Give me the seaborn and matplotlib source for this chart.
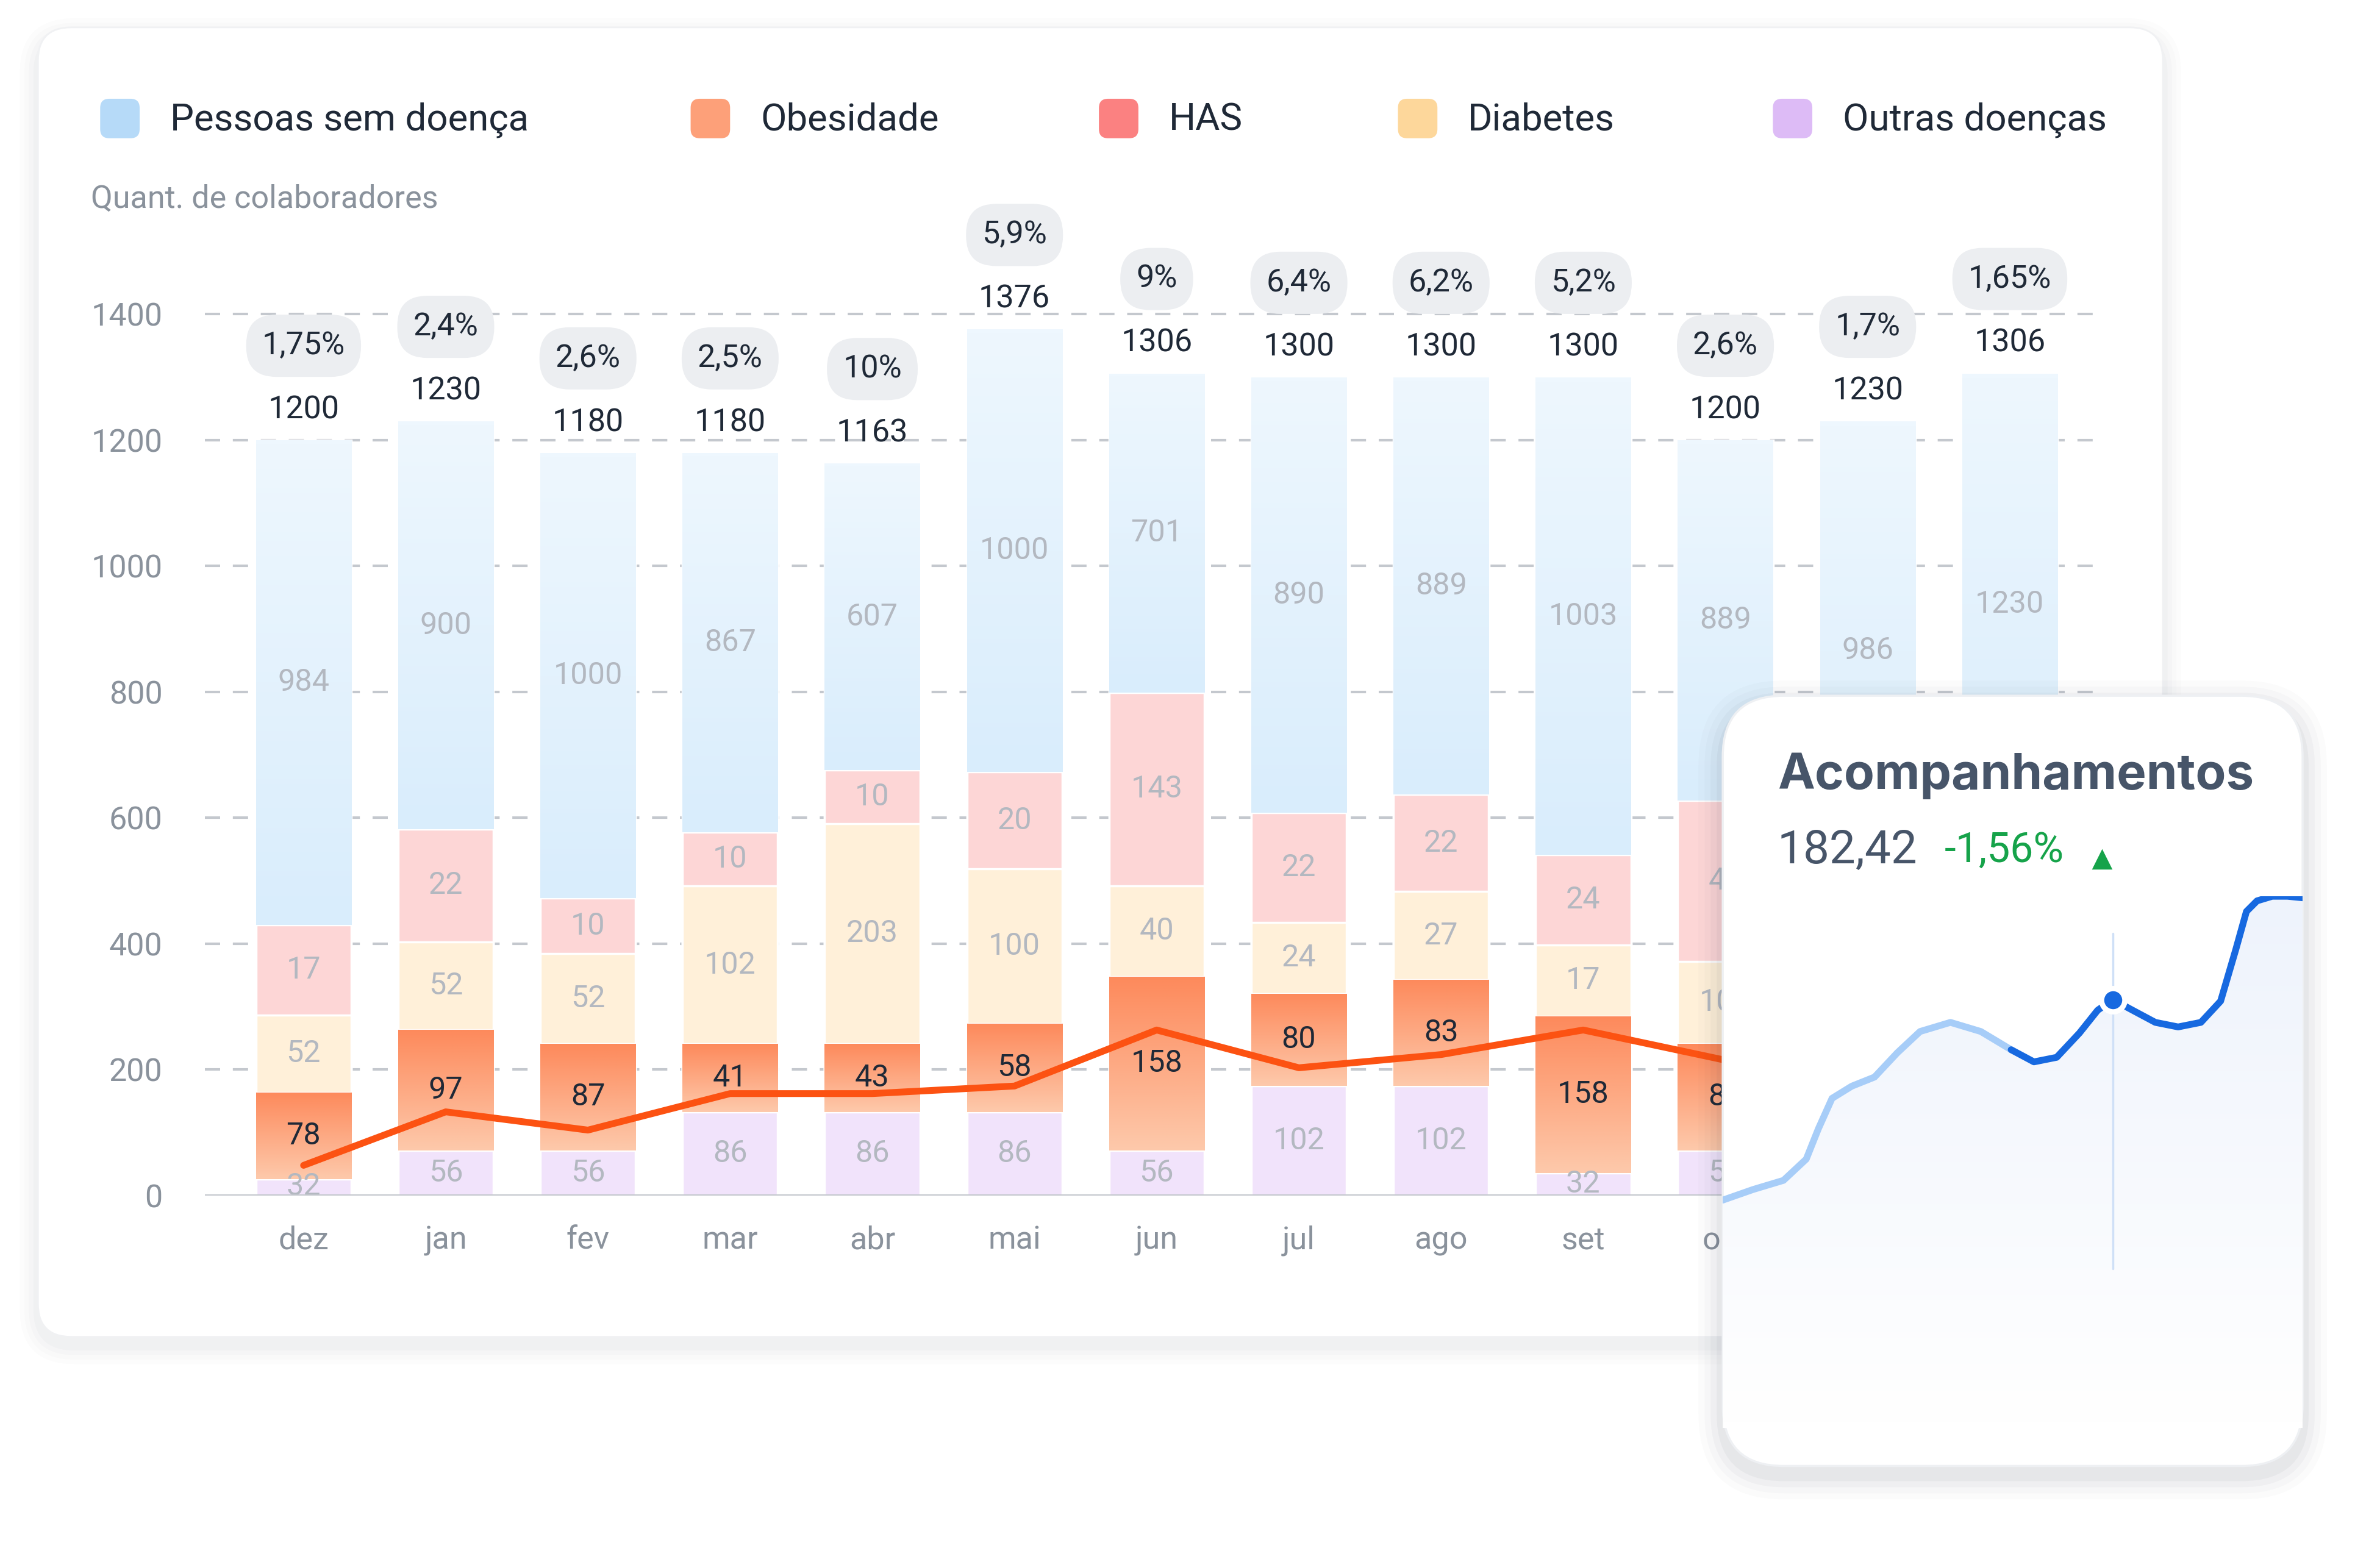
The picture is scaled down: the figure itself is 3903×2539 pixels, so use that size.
import numpy as np
import pandas as pd
import matplotlib.pyplot as plt
import seaborn as sns
from matplotlib.patches import FancyBboxPatch

# months shown on the x axis (first slot "per" has no bar)
months = ["per", "dez", "jan", "fev", "mar", "abr", "mai", "jun", "jul", "ago", "set", "out", "nov", "dez "]
bar_months = months[1:]

# drawn heights of the stacked segments
h_outras = [26, 72, 72, 133, 133, 133, 72, 174, 174, 36, 72, 72, 133]
h_obes = [138, 191, 169, 108, 108, 140, 276, 147, 169, 249, 169, 169, 140]
h_diab = [123, 140, 143, 251, 350, 246, 144, 113, 140, 113, 131, 140, 150]
h_has = [143, 179, 89, 85, 85, 154, 307, 174, 154, 143, 256, 120, 150]
totals = [1200, 1230, 1180, 1180, 1163, 1376, 1306, 1300, 1300, 1300, 1200, 1230, 1306]

# texts written on the segments
lab_sem = ["984", "900", "1000", "867", "607", "1000", "701", "890", "889", "1003", "889", "986", "1230"]
lab_has = ["17", "22", "10", "10", "10", "20", "143", "22", "22", "24", "43", "22", "20"]
lab_diab = ["52", "52", "52", "102", "203", "100", "40", "24", "27", "17", "102", "52", "40"]
lab_obes = ["78", "97", "87", "41", "43", "58", "158", "80", "83", "158", "87", "80", "83"]
lab_outras = ["32", "56", "56", "86", "86", "86", "56", "102", "102", "32", "56", "56", "86"]
pct = ["1,75%", "2,4%", "2,6%", "2,5%", "10%", "5,9%", "9%", "6,4%", "6,2%", "5,2%", "2,6%", "1,7%", "1,65%"]

# orange trend line
trend = [48, 133, 104, 162, 162, 174, 263, 203, 224, 263, 215, 190, 200]

# small card curve (card pixel coords)
card_x = [0, 20, 40, 55, 63, 72, 85, 100, 115, 130, 150, 170, 190, 205, 220, 235, 247, 257,
          270, 285, 300, 315, 328, 338, 345, 352, 362, 372, 382]
card_y = [165, 172, 178, 192, 212, 232, 240, 246, 262, 276, 282, 276, 264, 256, 259, 275, 290, 297,
          290, 282, 279, 282, 296, 330, 355, 362, 365, 365, 364]

legend_names = ["Pessoas sem doença", "Obesidade", "HAS", "Diabetes", "Outras doenças"]
legend_cols = ["#a9d4f7", "#fd8f62", "#fb6b6b", "#fdd08a", "#d7b0f5"]

sns.set_theme(style="white")
plt.rcParams["font.family"] = ["Roboto", "DejaVu Sans"]

W, H = 1568, 1019
fig = plt.figure(figsize=(3903 / 250, 2539 / 250), dpi=250)
fig.patch.set_facecolor("white")

# background layer in picture pixels
bg = fig.add_axes([0, 0, 1, 1], zorder=0)
bg.set_xlim(0, W)
bg.set_ylim(H, 0)
bg.axis("off")
for i, a in enumerate([0.012, 0.012, 0.015, 0.02]):
    d = 12 - i * 3
    bg.add_patch(FancyBboxPatch((25 - d, 18 - d + 6), 1400 + 2 * d, 862 + 2 * d,
                                boxstyle="round,pad=0,rounding_size=%d" % (24 + d),
                                fc="#1e293b", ec="none", alpha=a))
bg.add_patch(FancyBboxPatch((25, 18), 1400, 862, boxstyle="round,pad=0,rounding_size=22",
                            fc="white", ec="#f0f1f3", lw=0.8))

lx = [79, 468, 737, 934, 1181]
for x, name, c in zip(lx, legend_names, legend_cols):
    bg.add_patch(FancyBboxPatch((x - 13, 65), 26, 26, boxstyle="round,pad=0,rounding_size=6",
                                fc=c, ec="none", alpha=0.85))
    bg.text(x + 33, 79, name, fontsize=17.8, color="#1f2937", va="center", ha="left")
bg.text(60, 131, "Quant. de colaboradores", fontsize=15, color="#8a929c", va="center")

# main chart
ax = fig.add_axes([135 / W, 1 - 787 / H, 1250 / W, (787 - 124) / H], zorder=1)
ax.patch.set_alpha(0)
pos = list(range(1, len(bar_months) + 1))
layers = [h_outras, h_obes, h_diab, h_has]
cum = np.cumsum(np.array(layers), axis=0)
tops = [totals, cum[3], cum[2], cum[1], cum[0]]
cols = ["#dceffc", "#fdd6d6", "#fff0d9", "#fda07a", "#f1e3fb"]
for top, c in zip(tops, cols):
    df = pd.DataFrame({"pos": pos, "v": top})
    sns.barplot(data=df, x="pos", y="v", color=c, width=0.67, saturation=1,
                native_scale=True, ax=ax, zorder=2)

# gradients on obesity segments
obes_patches = ax.patches[-2 * len(pos):-len(pos)]
grad = np.linspace(0, 1, 100).reshape(-1, 1)
ocmap = sns.blend_palette(["#fdc9ab", "#fd8a5c"], as_cmap=True)
for i, p in enumerate(obes_patches):
    x0 = p.get_x()
    im = ax.imshow(grad, extent=(x0, x0 + p.get_width(), cum[0][i], cum[1][i]),
                   cmap=ocmap, aspect="auto", origin="lower", zorder=2.5)
    im.set_clip_path(p)
# soft fade on the blue tops
bcmap = sns.blend_palette(["#d9edfc", "#eef7fe"], as_cmap=True)
for i, p in enumerate(ax.patches[:len(pos)]):
    x0 = p.get_x()
    im = ax.imshow(grad, extent=(x0, x0 + p.get_width(), cum[3][i], totals[i]),
                   cmap=bcmap, aspect="auto", origin="lower", zorder=2.1)
    im.set_clip_path(p)

sns.lineplot(x=pos, y=trend, color="#fc5212", lw=3.2, ax=ax, zorder=4)

for i, x in enumerate(pos):
    lo = [0, cum[0][i], cum[1][i], cum[2][i], cum[3][i], totals[i]]
    labs = [lab_outras[i], lab_obes[i], lab_diab[i], lab_has[i], lab_sem[i]]
    for k in range(5):
        mid = (lo[k] + lo[k + 1]) / 2
        if k == 0:
            mid = max(mid, 14)
        color = "#1f2937" if k == 1 else "#b3b8c0"
        ax.text(x, mid, labs[k], ha="center", va="center", fontsize=14.5, color=color, zorder=5)
    ax.text(x, totals[i] + 48, str(totals[i]), ha="center", va="center", fontsize=15,
            color="#1f2937", zorder=5)
    ax.text(x, totals[i] + 150, pct[i], ha="center", va="center", fontsize=15, color="#1f2937",
            zorder=5, bbox=dict(boxstyle="round,pad=0.5,rounding_size=0.95", fc="#eceef1", ec="none"))

ax.set_yticks(range(0, 1401, 200))
ax.set_xticks(range(len(months)))
ax.set_xticklabels(months)
ax.tick_params(axis="both", length=0, labelsize=15, labelcolor="#8a929c")
ax.tick_params(axis="x", pad=14)
ax.tick_params(axis="y", pad=20)
for y in range(200, 1401, 200):
    ax.axhline(y, color="#c4c8ce", lw=1.2, ls=(0, (6, 5)), zorder=1)
ax.axhline(0, color="#c4c8ce", lw=1.5, zorder=6)
ax.set_xlabel("")
ax.set_ylabel("")
sns.despine(ax=ax, left=True, bottom=True)
ax.set_autoscale_on(False)
ax.set_xlim(0.306, 13.65)
ax.set_ylim(0, 1600)

# floating card
ov = fig.add_axes([0, 0, 1, 1], zorder=5)
ov.set_xlim(0, W)
ov.set_ylim(H, 0)
ov.axis("off")
for i, a in enumerate([0.015, 0.02, 0.03, 0.04]):
    d = 16 - i * 4
    ov.add_patch(FancyBboxPatch((1135 - d, 458 - d + 6), 382 + 2 * d, 507 + 2 * d,
                                boxstyle="round,pad=0,rounding_size=%d" % (40 + d),
                                fc="#1e293b", ec="none", alpha=a))
ov.add_patch(FancyBboxPatch((1135, 458), 382, 507, boxstyle="round,pad=0,rounding_size=40",
                            fc="white", ec="#eef0f3", lw=1))
ov.text(1171, 511, "Acompanhamentos", fontsize=23.5, fontweight="bold", color="#475569",
        va="center", family=["Inter", "DejaVu Sans"])
ov.text(1171, 560, "182,42", fontsize=22, color="#475569", va="center")
ov.text(1281, 560, "-1,56%", fontsize=19.5, color="#16a34a", va="center")
ov.plot([1385], [566], marker="^", ms=8, color="#16a34a")
ov.add_patch(FancyBboxPatch((1188, 879), 274, 13, boxstyle="round,pad=0,rounding_size=6",
                            fc="#e4e7eb", ec="none", zorder=8))
ov.add_patch(FancyBboxPatch((1188, 909), 200, 13, boxstyle="round,pad=0,rounding_size=6",
                            fc="#e4e7eb", ec="none", zorder=8))

cx = fig.add_axes([1135 / W, 1 - 940 / H, 382 / W, 350 / H], zorder=6)
cx.patch.set_alpha(0)
cx.set_xlim(0, 382)
cx.set_ylim(0, 350)
cx.axis("off")
cy = [v - 15 for v in card_y]
poly = cx.fill_between(card_x, cy, 0, color="none", lw=0)
fcm = sns.blend_palette(["#ffffff", "#eef3fc"], as_cmap=True)
fim = cx.imshow(np.linspace(0, 1, 100).reshape(-1, 1), extent=(0, 382, 0, 350), cmap=fcm,
                aspect="auto", origin="lower", zorder=0)
fim.set_clip_path(poly.get_paths()[0], transform=cx.transData)
cx.axvline(257, ymin=0.3, ymax=0.93, color="#cfe0f7", lw=1)
sns.lineplot(x=card_x[:13], y=cy[:13], color="#a7cdf8", lw=3.2, ax=cx)
sns.lineplot(x=card_x[12:], y=cy[12:], color="#1769e0", lw=3.2, ax=cx)
cx.plot([257], [cy[17]], "o", ms=11, color="#1769e0", mec="white", mew=2.5, zorder=5)
cx.set_xlim(0, 382)
cx.set_ylim(0, 350)

fig.savefig("out.png", dpi=250)
